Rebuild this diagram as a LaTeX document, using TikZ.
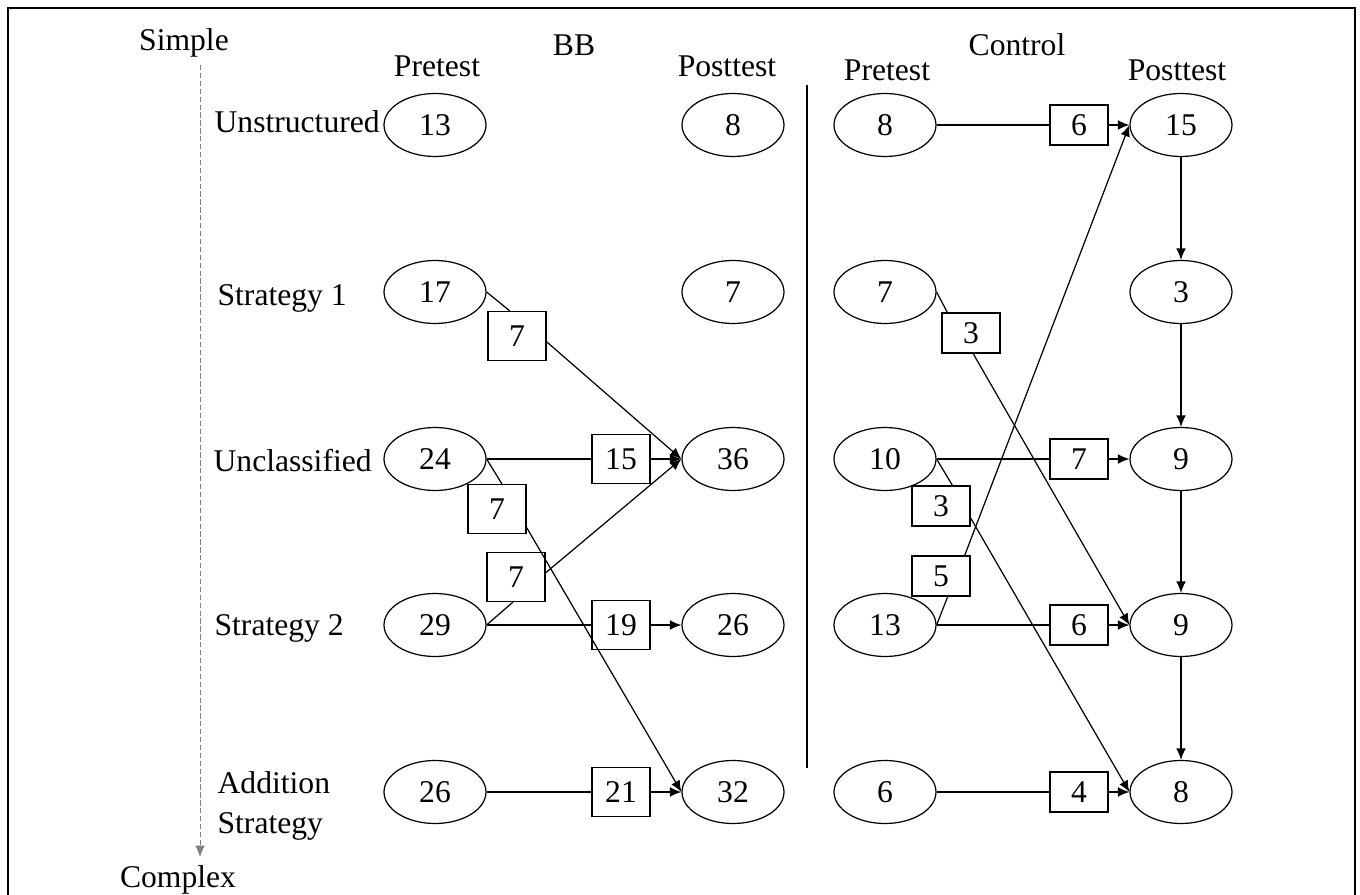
\documentclass[tikz,border=0pt]{standalone}
\usepackage{fontspec}
\setmainfont{Liberation Serif}
\usetikzlibrary{shapes.geometric,arrows.meta,positioning}

\begin{document}
\begin{tikzpicture}[
    x=0.02cm, y=-0.02cm,
    line width=0.7pt,
    font=\fontsize{18}{23}\selectfont,
    score/.style={ellipse, draw=black, minimum width=2.04cm, minimum height=1.26cm, inner sep=0pt},
    gain/.style={rectangle, draw=black, minimum width=1.16cm, minimum height=0.98cm, inner sep=0pt},
    gainc/.style={gain, minimum height=0.8cm},
    rowname/.style={anchor=west, align=left, inner sep=0pt},
    arrow/.style={-{Latex[length=6.5pt,width=5.5pt]}}
]
\useasboundingbox (0,0) rectangle (1360,895);
\draw[line width=0.8pt] (8,8) rectangle (1355,905);

% Complexity axis
\node (simple) at (184,43) {Simple};
\node (complex) at (178,880) {Complex};
\coordinate (axtop) at (200,65);
\coordinate (axbot) at (200,857);
\draw[arrow, gray, line width=0.5pt, dash pattern=on 3pt off 1.5pt] (axtop) -- (axbot);

% Headers
\node (bb) at (574,45) {BB};
\node (ctrl) at (1017,45) {Control};
\node (bbpre) at (437,66) {Pretest};
\node (bbpost) at (727,66) {Posttest};
\node (ctpre) at (887,70) {Pretest};
\node (ctpost) at (1177,70) {Posttest};

% Separator
\coordinate (sepT) at (807,85);
\coordinate (sepB) at (807,768);
\draw[line width=1.6pt] (sepT) -- (sepB);

% Row names
\node[rowname] (r1) at (214,122) {Unstructured};
\node[rowname] (r2) at (217,298) {Strategy 1};
\node[rowname] (r3) at (213,461) {Unclassified};
\node[rowname] (r4) at (214,628) {Strategy 2};
\node[rowname] (r5) at (217,806) {Addition\\Strategy};

% BB pretest
\node[score] (p13) at (435,125) {13};
\node[score] (p17) at (435,292) {17};
\node[score] (p24) at (435,459) {24};
\node[score] (p29) at (435,625) {29};
\node[score] (p26) at (435,792) {26};

% BB posttest
\node[score] (q8) at (733,125) {8};
\node[score] (q7) at (733,292) {7};
\node[score] (q36) at (733,459) {36};
\node[score] (q26) at (733,625) {26};
\node[score] (q32) at (733,792) {32};

% Control pretest
\node[score] (c8) at (885,125) {8};
\node[score] (c7) at (885,292) {7};
\node[score] (c10) at (885,459) {10};
\node[score] (c13) at (885,625) {13};
\node[score] (c6) at (885,792) {6};

% Control posttest
\node[score] (d15) at (1181,125) {15};
\node[score] (d3) at (1181,292) {3};
\node[score] (d9a) at (1181,459) {9};
\node[score] (d9b) at (1181,625) {9};
\node[score] (d8) at (1181,792) {8};

% BB counts
\node[gain] (g17) at (517,336) {7};
\node[gain] (g24) at (621,459) {15};
\node[gain] (g24b) at (497,509) {7};
\node[gain] (g29b) at (516,577) {7};
\node[gain] (g29) at (621,625) {19};
\node[gain] (g26) at (621,792) {21};

% Control counts
\node[gainc] (h8) at (1079,125) {6};
\node[gainc] (h7) at (971,333) {3};
\node[gainc] (h10) at (1079,459) {7};
\node[gainc] (h10b) at (941,506) {3};
\node[gainc] (h13b) at (941,576) {5};
\node[gainc] (h13) at (1079,625) {6};
\node[gainc] (h6) at (1079,792) {4};

% BB transitions
\draw (p17.east) -- (g17.106);
\draw[arrow] (g17.349) -- (q36.west);
\draw (p24.east) -- (g24.west);
\draw[arrow] (g24.east) -- (q36.west);
\draw (p24.east) -- (g24b.79);
\draw[arrow] (g24b.328) -- (q32.west);
\draw (p29.east) -- (g29b.263);
\draw[arrow] (g29b.8) -- (q36.west);
\draw (p29.east) -- (g29.west);
\draw[arrow] (g29.east) -- (q26.west);
\draw (p26.east) -- (g26.west);
\draw[arrow] (g26.east) -- (q32.west);

% Control transitions
\draw (c8.east) -- (h8.west);
\draw[arrow] (h8.east) -- (d15.west);
\draw (c7.east) -- (h7.139);
\draw[arrow] (h7.276) -- (d9b.west);
\draw (c10.east) -- (h10.west);
\draw[arrow] (h10.east) -- (d9a.west);
\draw (c10.east) -- (h10b.61);
\draw[arrow] (h10b.338) -- (d8.west);
\draw (c13.east) -- (h13b.288);
\draw[arrow] (h13b.41) -- (d15.west);
\draw (c13.east) -- (h13.west);
\draw[arrow] (h13.east) -- (d9b.west);
\draw (c6.east) -- (h6.west);
\draw[arrow] (h6.east) -- (d8.west);

% Control posttest chain
\draw[arrow] (d15) -- (d3);
\draw[arrow] (d3) -- (d9a);
\draw[arrow] (d9a) -- (d9b);
\draw[arrow] (d9b) -- (d8);

\end{tikzpicture}
\end{document}
